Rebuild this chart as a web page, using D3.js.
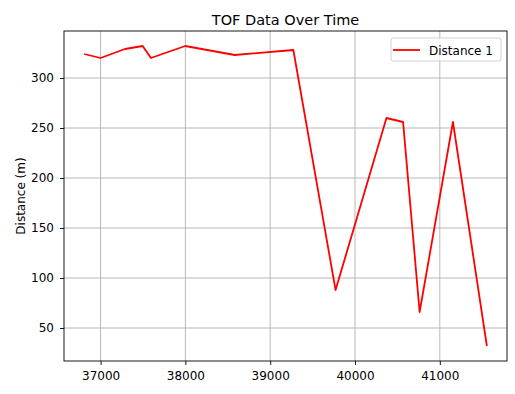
<!DOCTYPE html>
<html>
<head>
<meta charset="utf-8">
<script src="https://cdn.jsdelivr.net/npm/d3@7"></script>
<style>
  body { margin: 0; background: #fff; }
  svg { font-family: "DejaVu Sans", sans-serif; }
</style>
</head>
<body>
<svg id="chart" width="515" height="394"></svg>
<script>
// data
const times = [36806, 37000, 37288, 37496, 37594, 37998, 38582, 39273, 39771, 40371, 40567, 40762, 41155, 41555];
const distances = [324, 320, 329, 332, 320, 332, 323, 328, 88, 260, 256, 66, 256, 32];
const xTicks = [37000, 38000, 39000, 40000, 41000];
const yTicks = [50, 100, 150, 200, 250, 300];

const svg = d3.select("#chart");
const plotL = 64, plotR = 507, plotT = 31, plotB = 361;
const fs = 12; // tick / label font size

// matplotlib style 5% margins
const xExt = d3.extent(times), yExt = d3.extent(distances);
const xPad = (xExt[1] - xExt[0]) * 0.05, yPad = (yExt[1] - yExt[0]) * 0.05;

const x = d3.scaleLinear().domain([xExt[0] - xPad, xExt[1] + xPad]).range([plotL, plotR]);
const y = d3.scaleLinear().domain([yExt[0] - yPad, yExt[1] + yPad]).range([plotB, plotT]);

// grid
svg.append("g")
  .selectAll("line")
  .data(xTicks)
  .join("line")
  .attr("x1", d => x(d)).attr("x2", d => x(d))
  .attr("y1", plotT).attr("y2", plotB)
  .attr("stroke", "#b0b0b0").attr("stroke-width", 0.9);

svg.append("g")
  .selectAll("line")
  .data(yTicks)
  .join("line")
  .attr("x1", plotL).attr("x2", plotR)
  .attr("y1", d => y(d)).attr("y2", d => y(d))
  .attr("stroke", "#b0b0b0").attr("stroke-width", 0.9);

// data line
const line = d3.line().x((d, i) => x(times[i])).y(d => y(d));
svg.append("path")
  .datum(distances)
  .attr("d", line)
  .attr("fill", "none")
  .attr("stroke", "red")
  .attr("stroke-width", 1.8)
  .attr("stroke-linejoin", "round");

// axes
const xAxis = d3.axisBottom(x).tickValues(xTicks).tickFormat(d3.format("d")).tickSize(4).tickPadding(6);
const yAxis = d3.axisLeft(y).tickValues(yTicks).tickFormat(d3.format("d")).tickSize(4).tickPadding(6);

const gx = svg.append("g").attr("transform", `translate(0,${plotB})`).call(xAxis);
const gy = svg.append("g").attr("transform", `translate(${plotL},0)`).call(yAxis);
[gx, gy].forEach(g => {
  g.select(".domain").remove();
  g.selectAll("text").attr("font-size", fs).attr("fill", "#000").attr("font-family", "DejaVu Sans");
  g.selectAll("line").attr("stroke", "#000").attr("stroke-width", 0.9);
});

// frame
svg.append("rect")
  .attr("x", plotL).attr("y", plotT)
  .attr("width", plotR - plotL).attr("height", plotB - plotT)
  .attr("fill", "none").attr("stroke", "#000").attr("stroke-width", 0.9);

// title and label
svg.append("text")
  .attr("x", (plotL + plotR) / 2).attr("y", 24.5)
  .attr("text-anchor", "middle").attr("font-size", 14.5)
  .text("TOF Data Over Time");

svg.append("text")
  .attr("transform", `translate(24.5,${(plotT + plotB) / 2}) rotate(-90)`)
  .attr("text-anchor", "middle").attr("font-size", fs)
  .text("Distance (m)");

// legend
const lg = svg.append("g").attr("transform", `translate(391,38)`);
lg.append("rect")
  .attr("width", 110).attr("height", 23).attr("rx", 2)
  .attr("fill", "#fff").attr("fill-opacity", 0.8)
  .attr("stroke", "#cccccc").attr("stroke-width", 0.9);
lg.append("line")
  .attr("x1", 2).attr("x2", 29).attr("y1", 12).attr("y2", 12)
  .attr("stroke", "red").attr("stroke-width", 1.8);
lg.append("text")
  .attr("x", 38).attr("y", 16.5).attr("font-size", fs)
  .text("Distance 1");
</script>
</body>
</html>
